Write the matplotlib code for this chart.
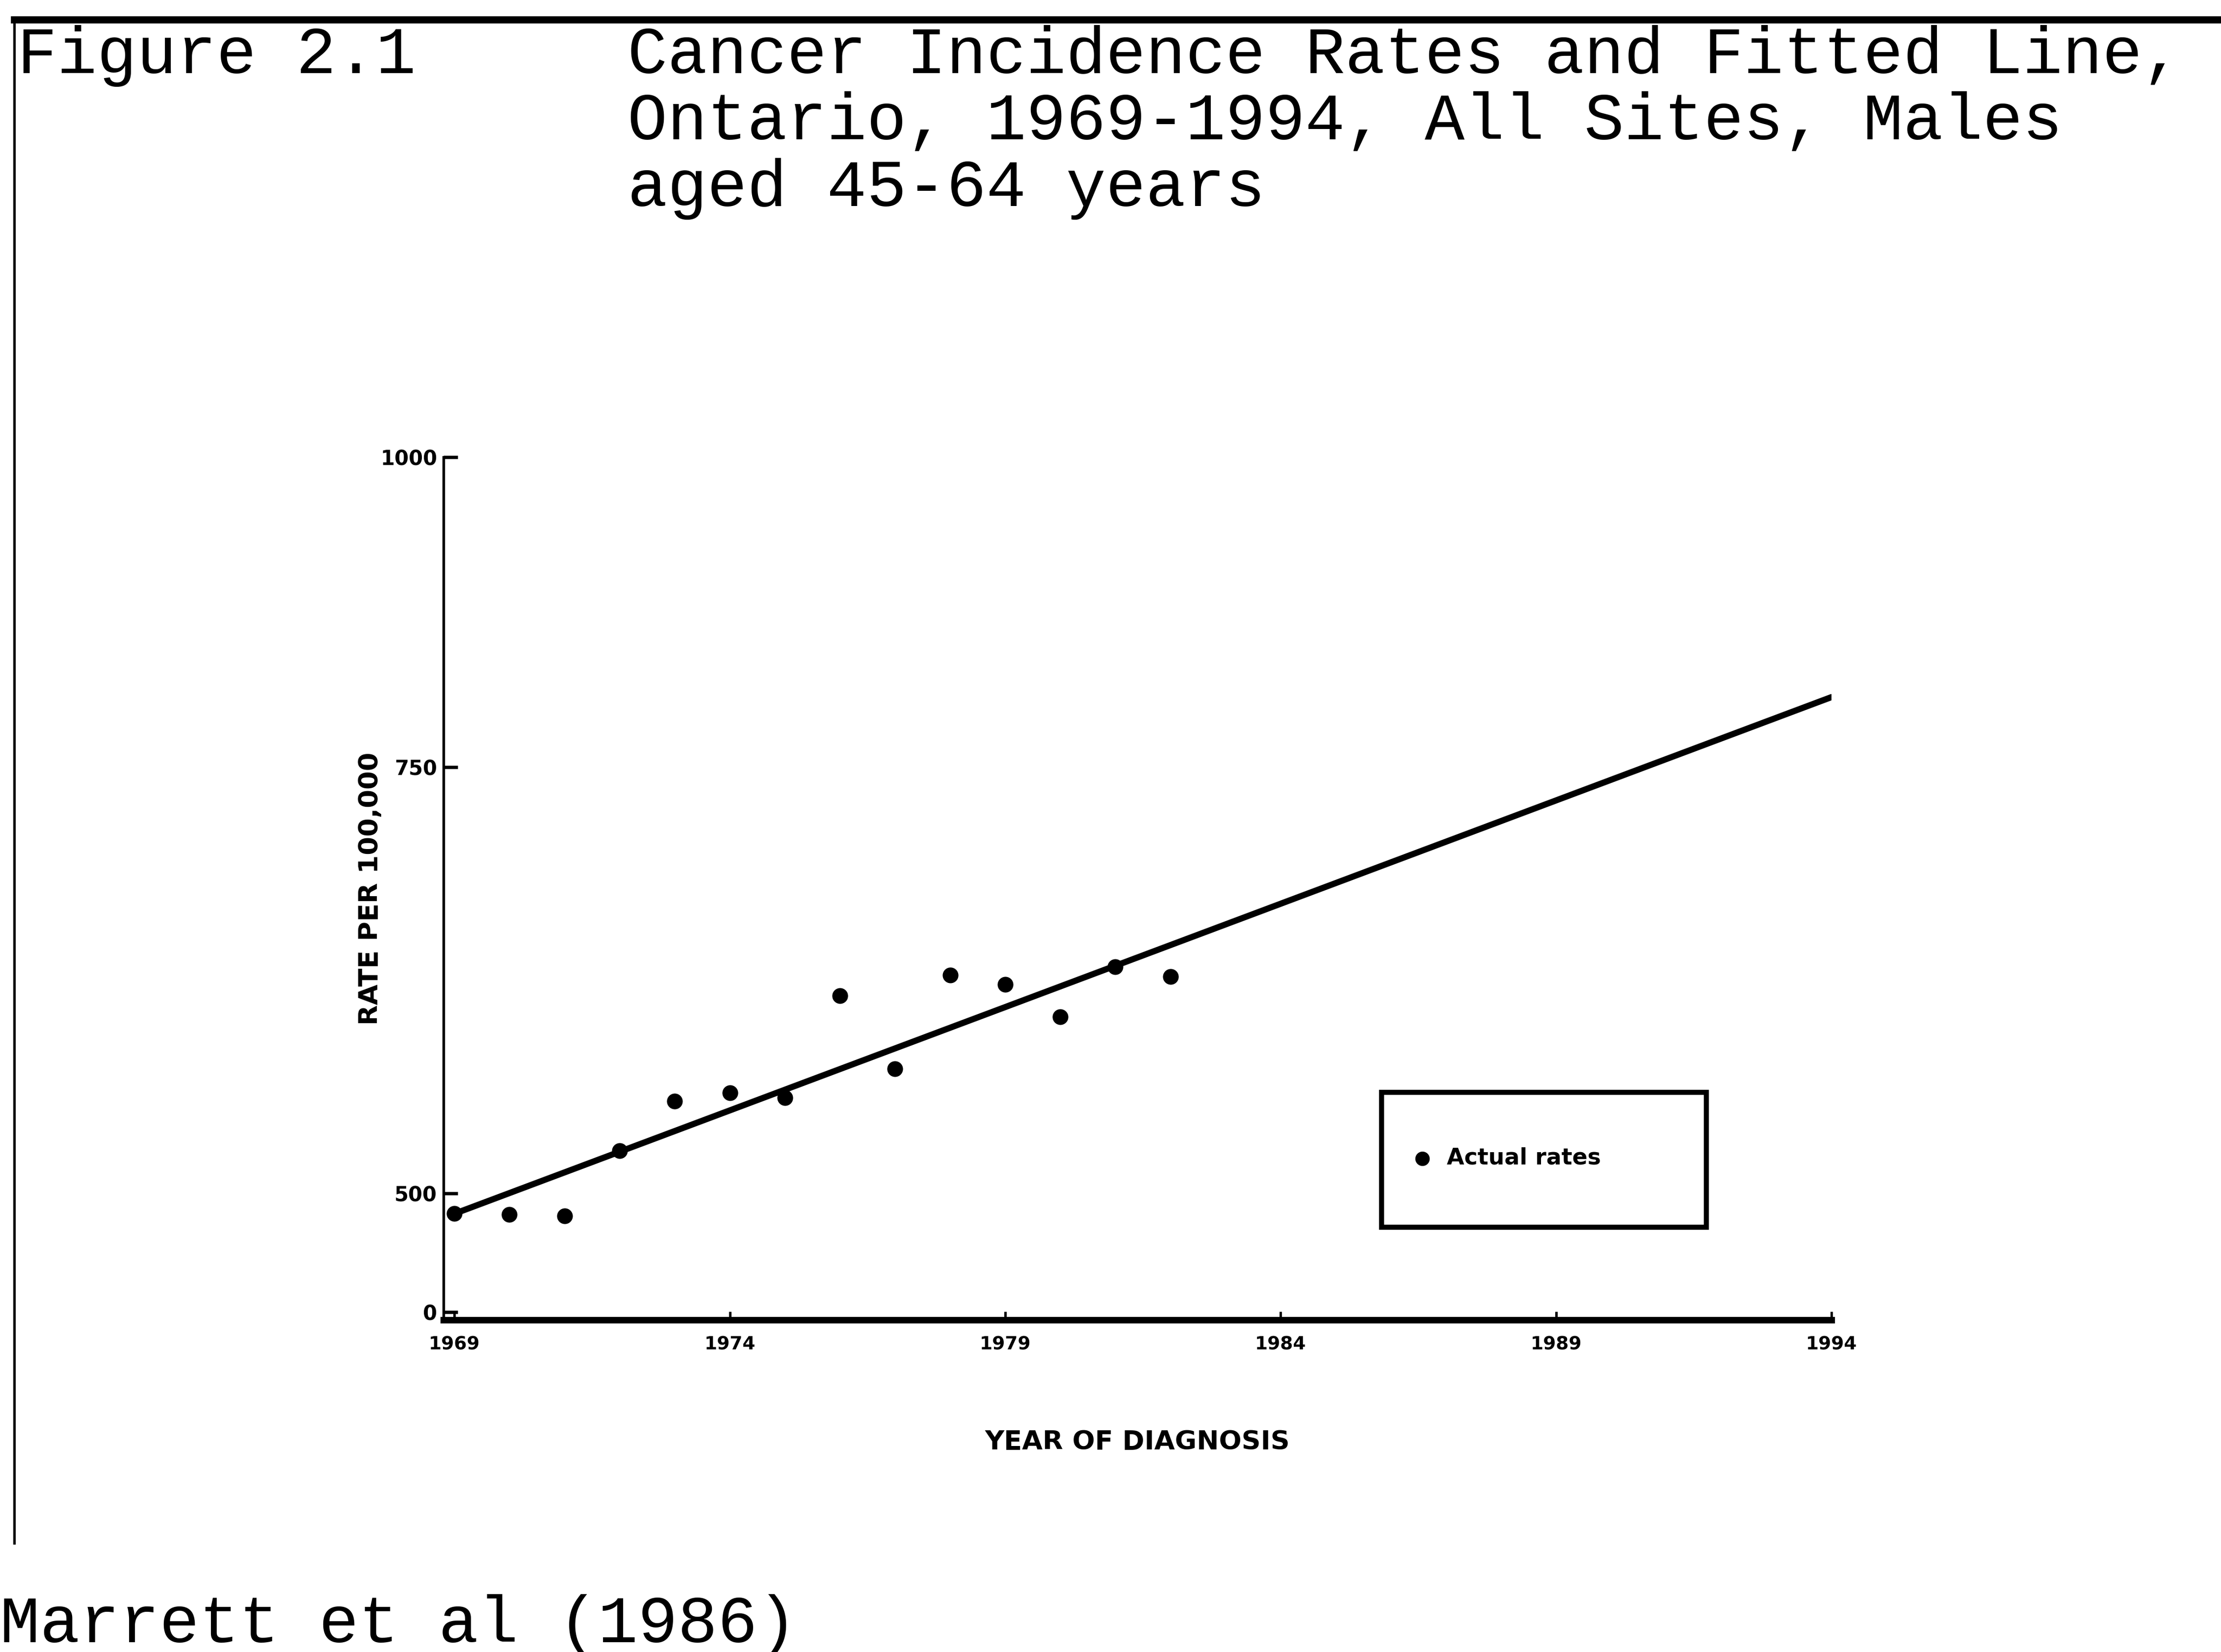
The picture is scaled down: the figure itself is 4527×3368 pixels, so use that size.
import numpy as np
import matplotlib
matplotlib.use("Agg")
import matplotlib.pyplot as plt
from matplotlib.lines import Line2D

# ---- data ----
years = [1969, 1970, 1971, 1972, 1973, 1974, 1975, 1976, 1977, 1978, 1979, 1980, 1981, 1982]
rates = [488, 487.5, 486.7, 525, 554, 559, 556, 616, 573, 628, 622.5, 603.5, 633, 627]
fit_years = [1969, 1994]
fit_rates = [488, 791]
xticks = [1969, 1974, 1979, 1984, 1989, 1994]
yticks = [0, 500, 750, 1000]
ytick_labels = ["0", "500", "750", "1000"]

# piecewise (broken) y scale as drawn on the original
knot_val = np.array([-100, 0, 450, 500, 800, 1000], dtype=float)
knot_pos = np.array([932.3, 927, 903, 843, 481.6, 323], dtype=float)

def fwd(v):
    return -np.interp(v, knot_val, knot_pos)

def inv(p):
    return np.interp(p, -knot_pos, knot_val)

W, H = 4527, 3368
fig = plt.figure(figsize=(W / 300, H / 300), dpi=300)
fig.patch.set_facecolor("white")

ax = fig.add_axes([313 / 1568, 1 - 932.3 / 1167, (1293 - 313) / 1568, (932.3 - 323) / 1167])
ax.set_yscale("function", functions=(fwd, inv))
ax.set_ylim(-100, 1000)
ax.set_xlim(1968.8, 1994.0)

ax.plot(fit_years, fit_rates, color="black", lw=3.0, solid_capstyle="round", zorder=2)
ax.scatter(years, rates, s=45, color="black", zorder=3, label="Actual rates")

for s in ["top", "right"]:
    ax.spines[s].set_visible(False)
ax.spines["left"].set_linewidth(1.3)
ax.spines["bottom"].set_linewidth(3.2)

ax.set_yticks(yticks)
ax.set_yticklabels(ytick_labels)
ax.yaxis.set_minor_locator(matplotlib.ticker.NullLocator())
ax.set_xticks(xticks)
ax.set_xticklabels([str(x) for x in xticks])
ax.tick_params(axis="y", direction="in", length=7, width=1.6, pad=3, labelsize=10)
ax.tick_params(axis="x", direction="in", length=4, width=1.2, pad=8, labelsize=9)
for lab in ax.get_xticklabels() + ax.get_yticklabels():
    lab.set_fontweight("bold")

ax.set_xlabel("YEAR OF DIAGNOSIS", fontsize=13, fontweight="bold", labelpad=37)
ax.set_ylabel("RATE PER 100,000", fontsize=13, fontweight="bold", labelpad=-1.5)

leg = ax.legend(loc="center left", bbox_to_anchor=(0.676, 0.107, 0.234, 0.157), mode="expand",
                frameon=True, fancybox=False, edgecolor="black", framealpha=1.0, fontsize=11,
                handletextpad=0.1, borderpad=0.8, handleheight=6.4, handlelength=2.0,
                markerscale=0.9, borderaxespad=0.0, scatteryoffsets=[0.06])
leg.get_frame().set_linewidth(2.5)
for t in leg.get_texts():
    t.set_fontweight("bold")

# page frame
fig.add_artist(Line2D([0.0064, 1.0], [1 - 14 / 1167, 1 - 14 / 1167], color="black", lw=3.5,
                      transform=fig.transFigure))
fig.add_artist(Line2D([0.0064, 0.0064], [1 - 14 / 1167, 1 - 1090 / 1167], color="black", lw=1.2,
                      transform=fig.transFigure))

mono = "Liberation Mono"
tfs = 32.5
fig.text(12 / 1568, 1 - 51.5 / 1167, "Figure 2.1", family=mono, fontsize=tfs, va="baseline", ha="left")
title_lines = ["Cancer Incidence Rates and Fitted Line,",
               "Ontario, 1969-1994, All Sites, Males",
               "aged 45-64 years"]
for i, line in enumerate(title_lines):
    fig.text(443 / 1568, 1 - (51.5 + 47 * i) / 1167, line, family=mono, fontsize=tfs,
             va="baseline", ha="left")
fig.text(0 / 1568, 1 - 1160 / 1167, "Marrett et al (1986)", family=mono, fontsize=tfs,
         va="baseline", ha="left")

fig.savefig("out.png", dpi=300, facecolor="white")
